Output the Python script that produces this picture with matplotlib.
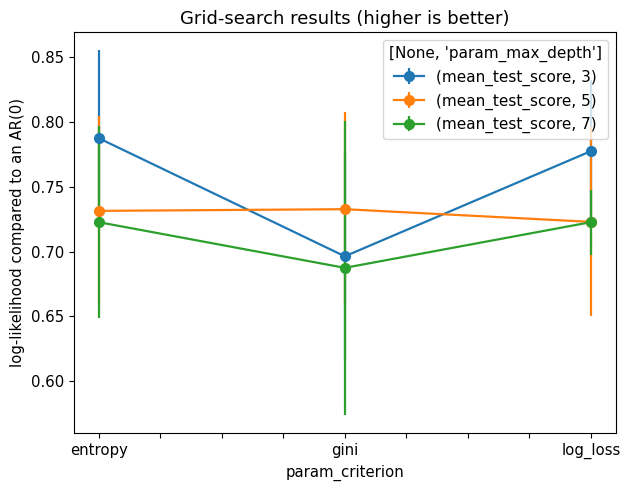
import numpy as np
import matplotlib
matplotlib.use("Agg")
import matplotlib.pyplot as plt

criteria = ["entropy", "gini", "log_loss"]
depths = [3, 5, 7]

mean_3 = [0.7877, 0.6964, 0.7777]
mean_5 = [0.7315, 0.7328, 0.7230]
mean_7 = [0.7228, 0.6875, 0.7228]

std_3 = [0.068, 0.080, 0.055]
std_5 = [0.073, 0.075, 0.073]
std_7 = [0.074, 0.1135, 0.025]

means = [mean_3, mean_5, mean_7]
stds = [std_3, std_5, std_7]

plt.rcParams["font.size"] = 10.7
plt.rcParams["axes.titlesize"] = 13
plt.rcParams["lines.linewidth"] = 1.6
plt.rcParams["lines.markersize"] = 7

fig = plt.figure(figsize=(6.24, 4.88), dpi=100)
ax = fig.add_axes([0.1186, 0.1127, 0.868, 0.822])

x = np.arange(len(criteria))
for d, m, s in zip(depths, means, stds):
    ax.errorbar(x, m, yerr=s, marker="o", label="(mean_test_score, %d)" % d)

ticks = np.arange(0, 2.01, 0.25)
labels = [criteria[int(t)] if t == int(t) else "" for t in ticks]
ax.set_xticks(ticks)
ax.set_xticklabels(labels)
ax.set_xlim(-0.1, 2.1)

ax.set_xlabel("param_criterion")
ax.set_ylabel("log-likelihood compared to an AR(0)")
ax.set_title("Grid-search results (higher is better)")
ax.legend(title="[None, 'param_max_depth']", loc="upper right", fontsize=11, title_fontsize=11)

fig.savefig("out.png")
